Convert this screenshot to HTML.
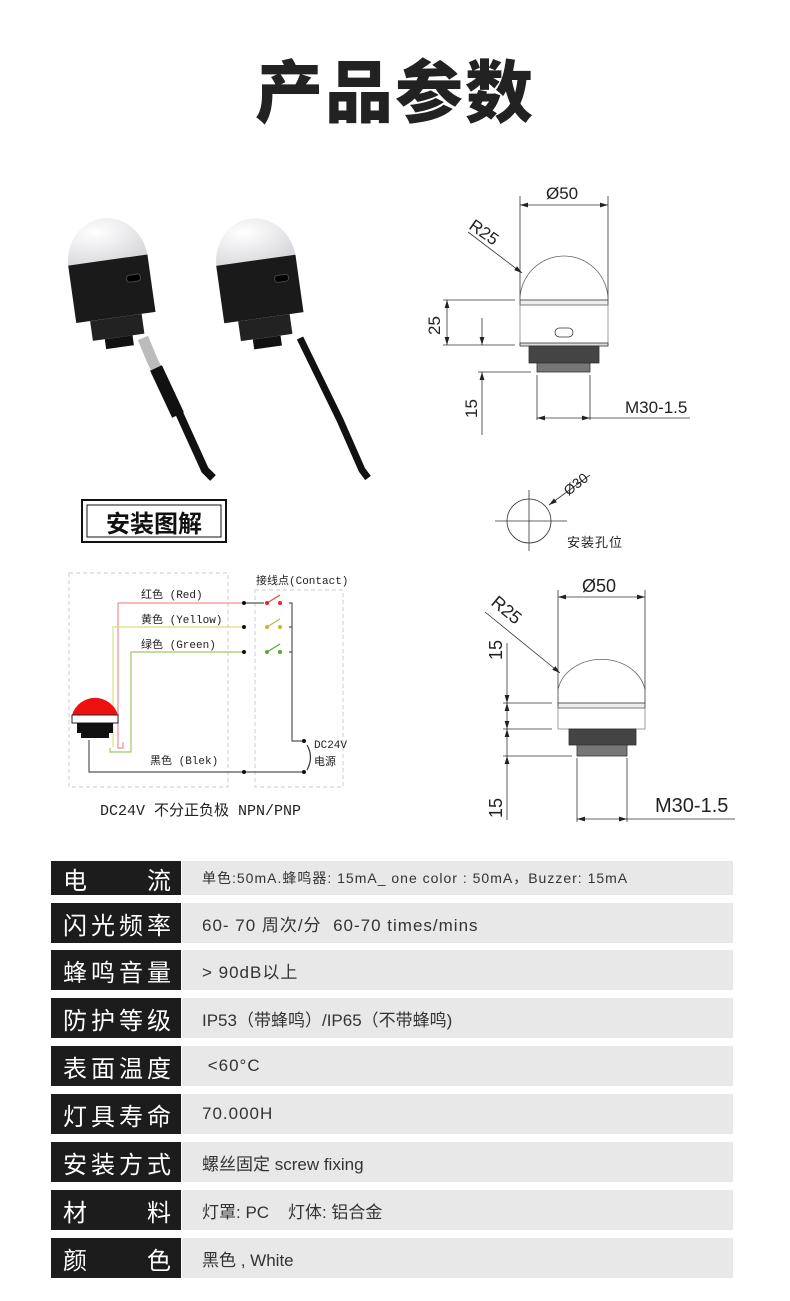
<!DOCTYPE html>
<html><head><meta charset="utf-8"><style>
body{margin:0;background:#fff;}
.wrap{position:relative;width:790px;height:1301px;overflow:hidden;font-family:"Liberation Sans","Noto Sans CJK SC",sans-serif;}
.row{position:absolute;left:51px;width:682px;height:40px;}
.lab{position:absolute;left:0;top:0;width:130px;height:100%;background:#1c1c1c;color:#fff;font-size:24px;display:flex;align-items:center;justify-content:space-between;padding:0 10px 0 12px;box-sizing:border-box;white-space:nowrap;}
.val{position:absolute;left:131px;top:0;right:0;height:100%;background:#e8e8e8;color:#333;font-size:17px;display:flex;align-items:center;padding-left:20px;letter-spacing:1px;white-space:nowrap;}
</style></head><body><div class="wrap">
<div style="position:absolute;left:0;width:790px;top:38px;text-align:center;font-size:68px;font-weight:900;color:#222;letter-spacing:2px;font-family:'Noto Sans CJK SC',sans-serif;">产品参数</div>

<svg width="790" height="850" style="position:absolute;left:0;top:0" font-family="Liberation Sans, Noto Sans CJK SC, sans-serif">
<defs><marker id="a" markerWidth="10" markerHeight="6" refX="10" refY="3" orient="auto"><path d="M0,0L10,3L0,6z" fill="#222"/></marker>
<marker id="b" markerWidth="10" markerHeight="6" refX="0" refY="3" orient="auto"><path d="M10,0L0,3L10,6z" fill="#222"/></marker>
<radialGradient id="dm" cx="0.4" cy="0.3" r="0.8"><stop offset="0" stop-color="#fff"/><stop offset="1" stop-color="#d8d8dc"/></radialGradient></defs>
<!-- lamp 1 -->
<g transform="rotate(-8 110 290)">
<path d="M72,262 A40,44 0 0 1 152,262 Z" fill="url(#dm)"/>
<rect x="72" y="260" width="80" height="58" fill="#1a1a1a"/>
<rect x="128" y="278" width="14" height="7" rx="3" fill="#000" stroke="#444"/>
<rect x="86" y="318" width="52" height="20" fill="#222"/>
<rect x="98" y="338" width="28" height="10" fill="#111"/>
</g>
<path d="M143,338 L152,360 L158,372" stroke="#bbb" stroke-width="11" fill="none"/>
<path d="M160,375 L180,415 L205,470 L213,478" stroke="#111" stroke-width="8" fill="none"/>
<path d="M156,368 L178,415" stroke="#111" stroke-width="13"/>
<!-- lamp 2 -->
<g transform="rotate(-8 260 290)">
<path d="M220,262 A40,44 0 0 1 300,262 Z" fill="url(#dm)"/>
<rect x="220" y="260" width="80" height="58" fill="#1a1a1a"/>
<rect x="276" y="278" width="14" height="7" rx="3" fill="#000" stroke="#444"/>
<rect x="234" y="318" width="52" height="20" fill="#222"/>
<rect x="246" y="338" width="28" height="10" fill="#111"/>
</g>
<path d="M300,338 L340,420 L362,470 L368,478" stroke="#111" stroke-width="7" fill="none"/>

<!-- upper drawing -->
<g stroke="#333" stroke-width="0.8" fill="none">
<line x1="520" y1="196" x2="520" y2="300"/><line x1="608" y1="196" x2="608" y2="300"/>
<line x1="520" y1="205" x2="608" y2="205" marker-start="url(#b)" marker-end="url(#a)"/>
<path d="M520,300 A44,44 0 0 1 608,300" stroke="#666"/>
<rect x="520" y="300" width="88" height="5" fill="#eee"/>
<rect x="520" y="305" width="88" height="40" stroke="#888"/>
<rect x="520" y="343" width="88" height="3" fill="#ddd"/>
<rect x="555" y="328" width="18" height="9" rx="4.5"/>
<rect x="529" y="346" width="70" height="17" fill="#444"/>
<rect x="537" y="363" width="53" height="9" fill="#777"/>
<line x1="468" y1="232" x2="522" y2="273" marker-end="url(#a)"/>
<line x1="443" y1="300" x2="515" y2="300"/><line x1="443" y1="345" x2="515" y2="345"/>
<line x1="447" y1="300" x2="447" y2="345" marker-start="url(#b)" marker-end="url(#a)"/>
<line x1="482" y1="318" x2="482" y2="345" marker-end="url(#a)"/>
<line x1="478" y1="372" x2="531" y2="372"/>
<line x1="482" y1="372" x2="482" y2="435" marker-start="url(#b)"/>
<line x1="537" y1="375" x2="537" y2="420"/><line x1="590" y1="375" x2="590" y2="420"/>
<line x1="537" y1="418" x2="590" y2="418" marker-start="url(#b)" marker-end="url(#a)"/>
<line x1="590" y1="418" x2="690" y2="418"/>
</g>
<g fill="#222" font-size="17">
<text x="546" y="199">Ø50</text>
<text x="468" y="228" transform="rotate(35 468 228)">R25</text>
<text x="440" y="335" transform="rotate(-90 440 335)">25</text>
<text x="477" y="418" transform="rotate(-90 477 418)">15</text>
<text x="625" y="413">M30-1.5</text>
</g>
<!-- hole -->
<g stroke="#333" stroke-width="0.8" fill="none">
<circle cx="529" cy="521" r="22"/>
<line x1="495" y1="521" x2="567" y2="521"/><line x1="529" y1="490" x2="529" y2="551"/>
<line x1="590" y1="475" x2="549" y2="505" marker-end="url(#a)"/>
</g>
<text x="558" y="490" font-size="14" fill="#222" transform="rotate(-38 572 478)">Ø30</text>
<text x="567" y="547" font-size="13" fill="#222" letter-spacing="1">安装孔位</text>
<!-- lower drawing -->
<g stroke="#333" stroke-width="0.8" fill="none">
<line x1="558" y1="590" x2="558" y2="703"/><line x1="645" y1="590" x2="645" y2="703"/>
<line x1="558" y1="597" x2="645" y2="597" marker-start="url(#b)" marker-end="url(#a)"/>
<path d="M558,703 L558,690 A44,36 0 0 1 645,690 L645,703" stroke="#666"/>
<rect x="558" y="703" width="87" height="5" fill="#eee"/>
<rect x="558" y="708" width="87" height="21" stroke="#888"/>
<rect x="569" y="729" width="67" height="16" fill="#444"/>
<rect x="577" y="745" width="50" height="11" fill="#777"/>
<line x1="485" y1="612" x2="560" y2="673" marker-end="url(#a)"/>
<line x1="503" y1="703" x2="552" y2="703"/><line x1="503" y1="729" x2="552" y2="729"/><line x1="503" y1="756" x2="572" y2="756"/>
<line x1="507" y1="643" x2="507" y2="703" marker-end="url(#a)"/>
<line x1="507" y1="703" x2="507" y2="729" marker-start="url(#b)" marker-end="url(#a)"/>
<line x1="507" y1="729" x2="507" y2="756" marker-start="url(#b)"/>
<line x1="507" y1="756" x2="507" y2="820" marker-start="url(#b)"/>
<line x1="577" y1="758" x2="577" y2="822"/><line x1="627" y1="758" x2="627" y2="822"/>
<line x1="577" y1="819" x2="627" y2="819" marker-start="url(#b)" marker-end="url(#a)"/>
<line x1="627" y1="819" x2="735" y2="819"/>
</g>
<g fill="#222" font-size="18">
<text x="582" y="592">Ø50</text>
<text x="490" y="604" transform="rotate(40 490 604)">R25</text>
<text x="502" y="660" transform="rotate(-90 502 660)">15</text>
<text x="502" y="818" transform="rotate(-90 502 818)">15</text>
<text x="655" y="812" font-size="20">M30-1.5</text>
</g>

<!-- 安装图解 -->
<rect x="82" y="500" width="144" height="42" fill="none" stroke="#111" stroke-width="2"/>
<rect x="87" y="505" width="134" height="32" fill="none" stroke="#111" stroke-width="1"/>
<text x="154" y="532" text-anchor="middle" font-size="24" font-weight="700" fill="#111">安装图解</text>

<!-- wiring -->
<g fill="none" stroke="#ccc" stroke-dasharray="4,3" stroke-width="1">
<rect x="69" y="573" width="159" height="214"/>
<rect x="255" y="590" width="88" height="197"/>
</g>
<g fill="none" stroke-width="1.2">
<path d="M118,742 L118,603 L244,603" stroke="#f09090"/>
<path d="M113,747 L113,627 L244,627 " stroke="#dede80"/>
<path d="M110,748 L110,752 L131,752 L131,652 L244,652" stroke="#99cc66"/>
<path d="M118,742 L118,748 L123,748 L123,742" stroke="#f09090"/>
<path d="M89,740 L89,772 L305,772" stroke="#555"/>
<path d="M244,603 L264,603 M289,603 L292,603 L292,741 L304,741 M289,627 L292,627 M289,652 L292,652" stroke="#555"/>
<path d="M267,603 L280,595" stroke="#e44"/><path d="M267,627 L280,619" stroke="#bb3"/><path d="M267,652 L280,644" stroke="#5a3"/>
<path d="M307,745 Q314,757 307,770" stroke="#333"/>
</g>
<g>
<circle cx="244" cy="603" r="2" fill="#111"/><circle cx="244" cy="627" r="2" fill="#111"/><circle cx="244" cy="652" r="2" fill="#111"/><circle cx="244" cy="772" r="2" fill="#111"/>
<circle cx="267" cy="603" r="2" fill="#e22"/><circle cx="280" cy="603" r="2" fill="#e22"/>
<circle cx="267" cy="627" r="2" fill="#bb3"/><circle cx="280" cy="627" r="2" fill="#bb3"/>
<circle cx="267" cy="652" r="2" fill="#5a3"/><circle cx="280" cy="652" r="2" fill="#5a3"/>
<circle cx="304" cy="741" r="2" fill="#111"/><circle cx="304" cy="772" r="2" fill="#111"/>
</g>
<path d="M72,715 A24,24 0 0 1 118,715 Z" fill="#ee1111"/>
<rect x="72" y="715" width="46" height="8" fill="#fff" stroke="#222"/>
<rect x="77" y="723" width="36" height="10" fill="#111"/>
<rect x="81" y="733" width="28" height="5" fill="#111"/>
<g font-size="11" fill="#222" font-family="Liberation Mono, Noto Sans CJK SC, monospace">
<text x="141" y="598">红色 (Red)</text>
<text x="141" y="623">黄色 (Yellow)</text>
<text x="141" y="648">绿色 (Green)</text>
<text x="150" y="764">黑色  (Blek)</text>
<text x="256" y="584">接线点(Contact)</text>
<text x="314" y="748">DC24V</text>
<text x="314" y="765">电源</text>
</g>
<text x="100" y="815" font-size="15" fill="#222" font-family="Liberation Mono, Noto Sans CJK SC, monospace">DC24V 不分正负极 NPN/PNP</text>
</svg>

<div class="row" style="top:861px;height:34px"><div class="lab"><span>电</span><span>流</span></div><div class="val" style="font-size:14px">单色:50mA.蜂鸣器: 15mA_ one color : 50mA，Buzzer: 15mA</div></div>
<div class="row" style="top:903px"><div class="lab"><span>闪</span><span>光</span><span>频</span><span>率</span></div><div class="val">60- 70 周次/分&nbsp; 60-70 times/mins</div></div>
<div class="row" style="top:950px"><div class="lab"><span>蜂</span><span>鸣</span><span>音</span><span>量</span></div><div class="val">&gt; 90dB以上</div></div>
<div class="row" style="top:998px"><div class="lab"><span>防</span><span>护</span><span>等</span><span>级</span></div><div class="val" style="letter-spacing:0">IP53（带蜂鸣）/IP65（不带蜂鸣)</div></div>
<div class="row" style="top:1046px"><div class="lab"><span>表</span><span>面</span><span>温</span><span>度</span></div><div class="val">&nbsp;&lt;60°C</div></div>
<div class="row" style="top:1094px"><div class="lab"><span>灯</span><span>具</span><span>寿</span><span>命</span></div><div class="val">70.000H</div></div>
<div class="row" style="top:1142px"><div class="lab"><span>安</span><span>装</span><span>方</span><span>式</span></div><div class="val" style="letter-spacing:0">螺丝固定 screw fixing</div></div>
<div class="row" style="top:1190px"><div class="lab"><span>材</span><span>料</span></div><div class="val" style="letter-spacing:0">灯罩: PC&nbsp;&nbsp;&nbsp; 灯体: 铝合金</div></div>
<div class="row" style="top:1238px"><div class="lab"><span>颜</span><span>色</span></div><div class="val" style="letter-spacing:0">黑色 , White</div></div>
</div></body></html>
